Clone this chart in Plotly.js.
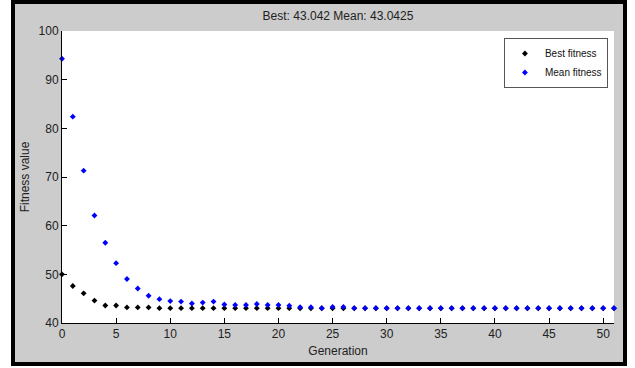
<!DOCTYPE html>
<html>
<head>
<meta charset="utf-8">
<script src="https://cdn.plot.ly/plotly-3.0.1.min.js"></script>
<style>
  html, body { margin: 0; padding: 0; background: #ffffff; }
  #frame { position: absolute; left: 11px; top: 0px; width: 608px; height: 358px;
           border: 4px solid #000; background: #cccccc; }
  #chart { position: absolute; left: 0; top: 0; width: 635px; height: 368px; }
</style>
</head>
<body>
<div id="frame"></div>
<div id="chart"></div>
<script>
const titleText = "Best: 43.042 Mean: 43.0425";
const xTitle = "Generation";
const yTitle = "Fitness value";
const seriesNames = ["Best fitness", "Mean fitness"];

const generations = [];
for (let g = 0; g <= 51; g++) generations.push(g);

const bestFitness = [
  50.0, 47.6, 46.1, 44.6, 43.6, 43.6, 43.2, 43.2, 43.2, 43.05,
  43.05, 43.05, 43.05, 43.05, 43.05, 43.05, 43.05, 43.05, 43.05, 43.05,
  43.05, 43.05, 43.042, 43.042, 43.042, 43.042, 43.042, 43.042, 43.042, 43.042,
  43.042, 43.042, 43.042, 43.042, 43.042, 43.042, 43.042, 43.042, 43.042, 43.042,
  43.042, 43.042, 43.042, 43.042, 43.042, 43.042, 43.042, 43.042, 43.042, 43.042,
  43.042, 43.042
];

const meanFitness = [
  94.3, 82.4, 71.3, 62.1, 56.5, 52.3, 49.05, 47.1, 45.6, 44.9,
  44.5, 44.4, 44.0, 44.2, 44.4, 43.8, 43.7, 43.7, 43.9, 43.7,
  43.7, 43.55, 43.25, 43.25, 43.05, 43.3, 43.3, 43.05, 43.05, 43.05,
  43.05, 43.05, 43.05, 43.05, 43.05, 43.05, 43.05, 43.05, 43.05, 43.05,
  43.05, 43.05, 43.05, 43.05, 43.05, 43.05, 43.05, 43.05, 43.05, 43.05,
  43.05, 43.0425
];

const fontFam = "Liberation Sans, Arial, sans-serif";

const traces = [
  { x: generations, y: bestFitness, name: seriesNames[0], type: "scatter", mode: "markers",
    marker: { symbol: "diamond", size: 4.5, color: "#000000" }, cliponaxis: false },
  { x: generations, y: meanFitness, name: seriesNames[1], type: "scatter", mode: "markers",
    marker: { symbol: "diamond", size: 4.5, color: "#0000ff" }, cliponaxis: false }
];

const layout = {
  width: 635, height: 368,
  margin: { l: 62, r: 21, t: 31, b: 45, pad: 0 },
  paper_bgcolor: "rgba(0,0,0,0)",
  plot_bgcolor: "#ffffff",
  font: { family: fontFam, size: 12, color: "#222222" },
  title: { text: titleText, x: 0.5, xref: "paper", xanchor: "center",
           y: 13, yref: "container", yanchor: "middle",
           font: { family: fontFam, size: 12, color: "#222222" } },
  showlegend: true,
  legend: { x: 0.989, xanchor: "right", y: 0.976, yanchor: "top",
            bgcolor: "#ffffff", bordercolor: "#555555", borderwidth: 1,
            font: { family: fontFam, size: 10, color: "#111111" } },
  xaxis: {
    range: [0, 51], showgrid: false, zeroline: false,
    showline: true, linecolor: "#000000", linewidth: 1, mirror: false,
    ticks: "inside", ticklen: 5, tickcolor: "#000000", tickwidth: 1,
    tickvals: [0, 5, 10, 15, 20, 25, 30, 35, 40, 45, 50],
    tickfont: { family: fontFam, size: 12, color: "#222222" },
    title: { text: xTitle, standoff: 6, font: { family: fontFam, size: 12, color: "#222222" } }
  },
  yaxis: {
    range: [40, 100], showgrid: false, zeroline: false,
    showline: true, linecolor: "#000000", linewidth: 1, mirror: false,
    ticks: "inside", ticklen: 5, tickcolor: "#000000", tickwidth: 1,
    tickvals: [40, 50, 60, 70, 80, 90, 100],
    tickfont: { family: fontFam, size: 12, color: "#222222" },
    title: { text: yTitle, standoff: 6, font: { family: fontFam, size: 12, color: "#222222" } }
  }
};

Plotly.newPlot("chart", traces, layout, { displayModeBar: false, staticPlot: true });
</script>
</body>
</html>
